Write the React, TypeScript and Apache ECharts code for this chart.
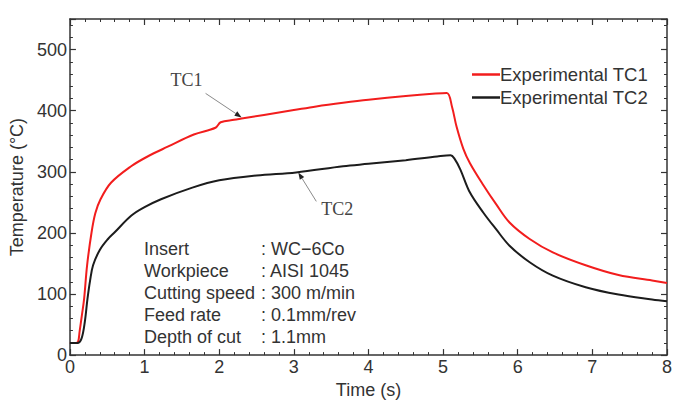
import React, { useEffect, useRef } from "react";
import * as echarts from "echarts";

// Thermocouple readings: time (s) and temperature (°C)
const timeTC1 = [0, 0.08, 0.11, 0.13, 0.16, 0.19, 0.23, 0.29, 0.34, 0.41, 0.55, 0.82, 1.04, 1.31, 1.66, 1.95, 2.02, 2.2, 2.3, 2.6, 3.0, 3.3, 3.66, 4.0, 4.5, 4.9, 5.05, 5.12, 5.18, 5.27, 5.36, 5.54, 5.71, 5.89, 6.16, 6.47, 6.91, 7.35, 7.8, 8.0];
const tempTC1 = [20, 20, 22, 39, 65, 92, 147, 201, 232, 255, 282, 309, 325, 341, 361, 372, 381, 385, 387, 393, 401, 407, 413, 418, 424, 428, 429, 406, 374, 338, 314, 278, 247, 217, 190, 168, 147, 131, 122, 118];

const timeTC2 = [0, 0.1, 0.155, 0.2, 0.235, 0.27, 0.31, 0.4, 0.51, 0.6, 0.82, 1.0, 1.22, 1.64, 2.0, 2.5, 3.03, 3.66, 4.0, 4.5, 4.92, 5.1, 5.15, 5.23, 5.36, 5.54, 5.71, 5.89, 6.16, 6.47, 6.91, 7.35, 7.8, 8.0];
const tempTC2 = [20, 20, 27, 55, 92, 122, 147, 172, 190, 201, 228, 242, 255, 274, 286, 294, 299, 309, 313, 319, 325, 327, 322, 304, 266, 233, 206, 179, 152, 130, 111, 99, 91, 88];

const seriesNames = ["Experimental TC1", "Experimental TC2"];
const seriesColors = ["#f21d1d", "#1c1c1c"];

// Cutting conditions listed inside the plot
const conditionLabels = ["Insert", "Workpiece", "Cutting speed", "Feed rate", "Depth of cut"];
const conditionValues = ["WC\u22126Co", "AISI 1045", "300 m/min", "0.1mm/rev", "1.1mm"];

// Points the TC1 / TC2 callouts point at (time, temperature)
const calloutTC1: [number, number] = [2.3, 389];
const calloutTC2: [number, number] = [3.06, 299];

const FONT = "'Liberation Sans', Arial, sans-serif";
const SERIF = "'Liberation Serif', 'Times New Roman', serif";
const INK = "#333";

function arrow(tip: number[], dx: number, dy: number, color: string) {
  const sx = tip[0] + dx;
  const sy = tip[1] + dy;
  const len = Math.hypot(dx, dy);
  const ux = -dx / len;
  const uy = -dy / len;
  const head = 7;
  const half = 2.6;
  const bx = tip[0] - ux * head;
  const by = tip[1] - uy * head;
  return [
    {
      type: "line",
      shape: { x1: sx, y1: sy, x2: bx, y2: by },
      style: { stroke: "#8a8a8a", lineWidth: 1 },
      silent: true,
    },
    {
      type: "polygon",
      shape: {
        points: [
          [tip[0], tip[1]],
          [bx - uy * half, by + ux * half],
          [bx + uy * half, by - ux * half],
        ],
      },
      style: { fill: color },
      silent: true,
    },
  ];
}

export default function App() {
  const ref = useRef<HTMLDivElement>(null);

  useEffect(() => {
    if (!ref.current) return;
    const chart = echarts.init(ref.current, undefined, { renderer: "svg" });

    const axisLine = { show: true, onZero: false, lineStyle: { color: INK, width: 1.5 } };
    const tick = { show: true, inside: true, length: 6, lineStyle: { color: INK, width: 1.2 } };
    const minor = { show: true, splitNumber: 5, length: 3, lineStyle: { color: INK, width: 1 } };
    const label = { color: INK, fontSize: 18, fontFamily: FONT };

    chart.setOption({
      animation: false,
      backgroundColor: "#fff",
      grid: { left: 65, right: 12, top: 19, bottom: 47 },
      legend: {
        orient: "vertical",
        left: 467,
        top: 60,
        itemWidth: 28,
        itemHeight: 2.5,
        itemGap: 4,
        icon: "rect",
        textStyle: { color: INK, fontSize: 18.5, fontFamily: FONT, padding: [0, 0, 0, -5] },
        data: seriesNames,
      },
      xAxis: [
        {
          type: "value",
          min: 0,
          max: 8,
          interval: 1,
          name: "Time (s)",
          nameLocation: "middle",
          nameGap: 22,
          nameTextStyle: { color: INK, fontSize: 18, fontFamily: FONT },
          axisLine,
          axisTick: tick,
          minorTick: minor,
          splitLine: { show: false },
          axisLabel: { ...label, margin: 3 },
        },
        {
          type: "value",
          position: "top",
          min: 0,
          max: 8,
          interval: 1,
          axisLine,
          axisTick: tick,
          minorTick: minor,
          splitLine: { show: false },
          axisLabel: { show: false },
        },
      ],
      yAxis: [
        {
          type: "value",
          min: 0,
          max: 550,
          interval: 100,
          name: "Temperature (\u00b0C)",
          nameLocation: "middle",
          nameGap: 40,
          nameTextStyle: { color: INK, fontSize: 18, fontFamily: FONT },
          axisLine,
          axisTick: tick,
          minorTick: minor,
          splitLine: { show: false },
          axisLabel: { ...label, margin: 3, showMaxLabel: false },
        },
        {
          type: "value",
          position: "right",
          min: 0,
          max: 550,
          interval: 100,
          axisLine,
          axisTick: tick,
          minorTick: minor,
          splitLine: { show: false },
          axisLabel: { show: false },
        },
      ],
      series: [
        {
          name: seriesNames[0],
          type: "line",
          symbol: "none",
          smooth: 0.35,
          lineStyle: { color: seriesColors[0], width: 2 },
          itemStyle: { color: seriesColors[0] },
          data: timeTC1.map((t, i) => [t, tempTC1[i]]),
        },
        {
          name: seriesNames[1],
          type: "line",
          symbol: "none",
          smooth: 0.35,
          lineStyle: { color: seriesColors[1], width: 2 },
          itemStyle: { color: seriesColors[1] },
          data: timeTC2.map((t, i) => [t, tempTC2[i]]),
        },
      ],
    });

    const p1 = chart.convertToPixel({ xAxisIndex: 0, yAxisIndex: 0 }, calloutTC1) as number[];
    const p2 = chart.convertToPixel({ xAxisIndex: 0, yAxisIndex: 0 }, calloutTC2) as number[];

    const conditionTexts: any[] = [];
    conditionLabels.forEach((name, i) => {
      const y = 249 + i * 22;
      conditionTexts.push({
        type: "text",
        x: 144,
        y,
        style: { text: name, fill: INK, font: `18px ${FONT}`, verticalAlign: "middle" },
        silent: true,
      });
      conditionTexts.push({
        type: "text",
        x: 261,
        y,
        style: { text: ": " + conditionValues[i], fill: INK, font: `18px ${FONT}`, verticalAlign: "middle" },
        silent: true,
      });
    });

    chart.setOption({
      graphic: [
        ...conditionTexts,
        {
          type: "text",
          x: p1[0] - 71,
          y: p1[1] - 37,
          style: { text: "TC1", fill: "#444", font: `18px ${SERIF}`, verticalAlign: "middle" },
          silent: true,
        },
        ...arrow(p1, -36, -24, "#222"),
        {
          type: "text",
          x: p2[0] + 23,
          y: p2[1] + 37,
          style: { text: "TC2", fill: "#444", font: `18px ${SERIF}`, verticalAlign: "middle" },
          silent: true,
        },
        ...arrow(p2, 18, 29, "#222"),
      ],
    });

    return () => chart.dispose();
  }, []);

  return (
    <div
      ref={ref}
      style={{ position: "absolute", left: 0, top: 0, width: 679, height: 404 }}
    />
  );
}
